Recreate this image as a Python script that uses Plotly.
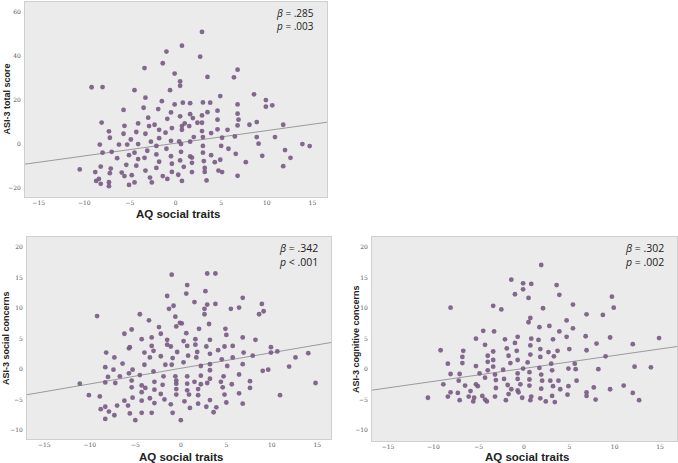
import plotly.graph_objects as go

# ---------------- data ----------------
aq_total = [2.9, 0.7, -1.0, 2.7, -1.4, -3.4, 6.8, -0.1, 3.5, 6.4, 0.5, 0.5, -9.2, -8.0, -4.5, -0.6, 8.6, 4.9, -3.3, 9.9,
            -1.5, 0.8, 1.6, 3.0, 3.8, -0.1, 6.8, 10.6, 9.9, -3.5, -1.9, -5.7, 4.6, 3.5, -0.5, 1.6, 6.8, 2.9, 0.5, 1.9,
            -3.0, -0.9, 6.9, 4.6, -8.1, -4.1, 1.0, 2.4, 2.9, 8.9, 11.8, 8.1, -5.6, -2.9, -2.3, 0.7, 1.5, 6.8, -1.8, -0.4,
            0.7, 2.9, 4.6, 5.7, -7.3, -4.3, -3.3, -1.1, -5.7, 3.9, -7.2, -4.9, -1.8, 2.0, 3.0, 5.1, 6.5, 8.9, 10.9, -0.5,
            0.4, 1.6, -2.7, -8.3, -6.2, -5.3, -4.1, -2.1, 0.6, 3.0, 5.0, 9.1, 13.9, 14.7, -8.0, -7.0, -4.5, -3.1, -1.0, 0.6,
            3.0, 5.8, 6.6, 12.0, -5.1, -6.4, -3.4, -2.1, -0.5, 1.6, 1.8, 3.9, 4.3, 9.5, 12.6, -4.1, -1.8, 0.5, 3.1, 4.9,
            1.8, 7.7, -8.2, -5.4, -4.3, -0.4, 0.9, -2.1, -7.1, -10.5, -3.3, 3.2, 4.7, 5.1, 11.8, -8.8, -7.2, -5.9, -5.6, -4.8,
            -2.8, -1.4, -0.4, 0.3, 1.8, 3.2, 6.8, -8.4, -8.7, -8.2, -7.3, -7.3, -5.1, -4.5, -2.6, -0.9, 0.7, 3.4]
asi_total = [50.9, 44.7, 42.0, 39.7, 36.7, 34.5, 33.8, 32.0, 30.5, 30.3, 28.5, 26.5, 25.8, 25.9, 24.5, 24.5, 22.6, 21.8, 21.1, 20.0,
             19.5, 18.8, 18.6, 18.9, 18.8, 18.0, 18.0, 17.6, 17.0, 16.5, 15.9, 15.5, 15.2, 14.5, 14.4, 13.6, 13.8, 13.0, 12.6, 11.8,
             12.0, 11.5, 11.1, 11.1, 9.8, 9.4, 9.4, 9.7, 9.7, 10.0, 8.8, 8.8, 8.3, 8.2, 8.8, 8.2, 8.2, 8.5, 6.5, 7.3,
             6.5, 5.9, 6.7, 6.5, 5.8, 5.5, 4.7, 5.2, 4.7, 5.0, 2.9, 2.1, 2.7, 3.2, 3.2, 2.9, 3.5, 3.2, 3.2, 1.5,
             1.2, 1.1, 1.1, -0.2, -0.2, -0.2, 0.0, -0.8, 0.0, -0.8, -0.8, 0.2, 0.0, -0.9, -3.9, -3.5, -3.9, -3.0, -2.1, -3.5,
             -3.9, -2.1, -4.4, -2.7, -5.0, -6.4, -6.2, -4.7, -5.5, -5.6, -6.1, -5.0, -8.2, -5.3, -6.2, -6.8, -8.0, -7.4, -7.7, -7.1,
             -8.5, -8.2, -10.2, -9.4, -9.8, -8.9, -10.3, -10.8, -11.1, -11.5, -12.0, -10.8, -12.0, -12.7, -10.0, -12.7, -13.2, -12.9, -14.5, -14.1,
             -15.2, -14.5, -12.6, -13.9, -12.7, -12.6, -14.4, -15.8, -16.7, -18.0, -17.3, -19.1, -18.5, -17.4, -17.4, -15.8, -16.7, -16.5]

aq_social = [-1.0, 2.9, 3.8, 0.7, 2.7, 0.6, -1.5, 6.8, 1.5, 2.9, 3.8, 8.9, -0.8, -1.3, 2.6, 5.5, 6.4, 9.1, 8.6, 2.6,
             -9.2, -4.5, -0.6, -3.5, -0.1, 0.1, 3.1, -0.5, -2.4, -5.4, 2.0, 4.9, -6.2, -2.2, 0.6, 5.0, -3.2, 6.8, -4.3, -1.5,
             0.3, 1.6, 3.2, 8.2, -3.2, -1.5, -5.6, -5.7, -1.1, 0.7, 1.6, 2.8, 4.8, 5.7, 9.9, -3.0, 4.1, -8.2, -4.0, -2.2,
             -0.4, 0.8, 1.8, 3.2, 6.9, 9.9, 10.6, 14.0, -7.3, -3.4, -0.9, 1.7, 4.5, 5.7, 7.9, 12.6, -6.4, -4.0, -1.7, 0.3,
             3.2, 5.1, 6.8, -8.3, -5.3, -7.4, -3.0, -1.0, 2.2, 3.2, 9.0, 9.6, 11.9, -8.0, -6.7, -5.7, -4.5, -1.9, -0.6, 0.7,
             2.2, 3.2, 4.7, 6.4, -11.1, -8.3, -7.2, -5.4, -2.9, -0.5, 1.5, 2.9, 4.4, 7.6, 14.8, -4.3, -2.0, -0.5, 0.7, 2.2,
             5.6, -5.4, -3.9, -2.9, -0.5, 0.7, 1.9, 4.6, 7.6, -10.1, -4.3, -2.2, -0.5, 0.9, 1.9, 4.8, 10.9, -8.9, -5.3, -3.4,
             -1.8, 0.4, 3.2, 5.0, 6.4, -6.2, -4.3, -2.9, -1.1, 1.9, 2.8, 3.9, 6.8, -7.0, -5.8, -8.3, -8.8, -7.3, -7.9, -5.6,
             -4.3, -3.2, -0.9, 1.0, 3.6, -8.3, -5.0, 0.0]
asi_social = [15.5, 15.7, 15.7, 13.8, 12.8, 12.4, 12.0, 11.7, 11.0, 10.6, 10.7, 10.7, 10.4, 9.9, 9.9, 9.9, 10.1, 9.5, 9.0, 9.0,
              8.7, 9.0, 8.6, 8.0, 7.6, 7.5, 7.4, 7.0, 6.9, 6.5, 6.6, 6.6, 5.8, 5.8, 5.9, 5.6, 5.2, 5.2, 4.9, 4.8,
              4.6, 4.9, 4.8, 4.8, 3.8, 4.0, 3.6, 3.4, 3.7, 3.8, 4.0, 3.7, 3.7, 3.8, 3.6, 3.0, 3.1, 2.7, 2.7, 2.1,
              2.8, 2.2, 2.8, 2.5, 2.7, 2.7, 2.9, 2.6, 1.9, 1.9, 1.8, 1.9, 1.6, 1.9, 2.2, 1.9, 0.9, 0.7, 0.7, 1.1,
              0.8, 0.5, 0.8, 0.3, -0.1, -0.1, -0.4, 0.7, 0.5, -0.2, -0.3, -0.1, 0.4, -1.3, -1.2, -0.7, -1.0, -1.2, -1.2, -1.2,
              -1.1, -1.6, -1.2, -0.9, -2.4, -2.2, -2.3, -1.9, -2.1, -1.9, -2.1, -2.3, -2.1, -2.0, -2.3, -2.7, -2.6, -2.4, -2.4, -2.5,
              -2.5, -3.0, -3.1, -3.4, -3.3, -3.5, -3.3, -3.0, -3.1, -4.3, -3.8, -4.1, -4.2, -4.2, -4.3, -4.2, -4.3, -4.5, -4.7, -4.8,
              -5.0, -5.3, -5.1, -5.5, -4.0, -5.2, -5.2, -5.6, -5.8, -5.7, -6.2, -6.3, -5.7, -6.0, -6.0, -6.2, -6.6, -7.6, -7.0, -7.3,
              -7.2, -7.2, -7.2, -6.4, -7.1, -8.2, -8.4, -8.4]

aq_cog = [1.9, -1.4, -0.1, 0.8, 3.6, -0.1, -1.0, 3.9, 9.7, 0.5, 5.4, -8.1, -3.4, -2.5, 2.1, 9.9, 6.9, 8.7, 0.7, 0.5,
          4.7, 1.7, 2.8, 5.4, 3.9, -4.5, -3.3, -0.7, -5.3, 0.8, 1.6, 3.2, 4.7, 6.8, 9.5, 14.9, -2.1, -1.0, -4.3, 0.7,
          5.0, 6.9, 8.0, 12.0, -9.2, -6.7, -3.4, -1.9, -0.8, 1.8, 2.7, 3.7, -4.0, 0.7, -1.7, 1.8, 3.3, -6.8, 9.0, -3.4,
          -0.7, -4.0, 0.4, 3.0, 5.6, -8.4, -1.5, -3.4, -0.1, 1.7, 4.9, 5.7, 8.2, 12.2, 14.0, -6.8, -5.3, -8.1, -7.1, -4.9,
          -2.3, -4.0, -0.7, 0.6, 1.9, 3.1, -3.2, -4.3, 0.6, -2.2, -0.7, 2.0, 2.9, 3.8, 5.8, -7.2, -3.1, -8.9, -6.5, -5.3,
          -5.1, -0.4, -1.8, 0.6, 4.9, 11.0, -3.1, -1.4, -0.7, 1.9, 3.2, 4.0, 7.7, 9.5, -7.3, -5.9, -8.1, -0.6, 6.9, 12.0,
          -8.4, -6.1, -5.5, -4.6, -4.3, -3.2, -1.7, -0.2, 0.8, 1.8, 3.1, 4.8, 6.9, 7.9, -10.6, -7.1, -5.6, -4.1, -2.0, 0.7,
          2.4, 3.4, 12.7]
asi_cog = [17.1, 14.7, 14.1, 14.0, 13.8, 13.1, 12.3, 12.2, 11.9, 11.7, 10.6, 10.1, 10.4, 9.8, 10.0, 10.1, 9.0, 8.9, 8.4, 7.7,
           8.0, 6.9, 7.1, 6.7, 6.2, 6.3, 6.2, 5.3, 5.0, 5.0, 4.8, 4.9, 5.3, 5.4, 5.2, 5.1, 4.9, 4.3, 4.0, 3.9,
           3.3, 3.1, 4.2, 4.1, 3.1, 3.0, 2.9, 3.4, 3.0, 3.3, 2.8, 3.0, 2.2, 2.4, 2.2, 2.0, 2.1, 2.0, 2.1, 1.5,
           1.5, 1.2, 1.1, 0.9, 0.9, 0.9, 1.0, 0.4, 0.1, 0.2, 0.1, 0.0, 0.0, 0.4, 0.3, 1.0, 0.5, -0.8, -0.8, -0.7,
           -0.1, -0.2, -0.7, -0.5, -0.9, -0.2, -0.9, -1.4, -1.7, -1.6, -1.6, -1.9, -1.9, -1.9, -1.9, -1.9, -1.8, -2.5, -2.7, -2.5,
           -2.8, -2.5, -2.6, -2.7, -2.8, -2.7, -3.1, -3.3, -3.5, -3.2, -2.8, -3.3, -3.0, -3.3, -3.9, -3.6, -3.8, -3.8, -3.8, -3.9,
           -4.5, -4.5, -4.7, -4.4, -5.0, -4.5, -4.1, -4.7, -4.5, -4.8, -4.4, -4.2, -4.4, -5.0, -4.7, -5.1, -5.3, -5.3, -5.1, -5.1,
           -5.3, -5.4, -5.1]

panel_titles_y = ["ASI-3 total score", "ASI-3 social concerns", "ASI-3 cognitive concerns"]
x_title = "AQ social traits"
beta_labels = [".285", ".342", ".302"]
p_labels = ["= .003", "< .001", "= .002"]
fit_intercept = [0.39, 0.12, 0.12]
fit_slope = [0.575, 0.257, 0.213]
x_ticks = [-15, -10, -5, 0, 5, 10, 15]
y_ticks_total = [-20, 0, 20, 40, 60]
y_ticks_sub = [-10, -5, 0, 5, 10, 15, 20]

# ---------------- figure ----------------
W, H = 678, 463
panels = [
    dict(x=aq_total, y=asi_total, xr=[-16.5, 16.6], yr=[-24, 64.5], yt=y_ticks_total,
         px=(25, 327), py=(2, 197), ytitle_x=6, xtitle_y=214, fs=10, ann_yc=19),
    dict(x=aq_social, y=asi_social, xr=[-16.9, 16.5], yr=[-11.5, 21.7], yt=y_ticks_sub,
         px=(27, 331), py=(237, 439), ytitle_x=6, xtitle_y=457, fs=10.5, ann_yc=255),
    dict(x=aq_cog, y=asi_cog, xr=[-16.77, 16.88], yr=[-11.8, 21.7], yt=y_ticks_sub,
         px=(372, 677), py=(237, 441), ytitle_x=356, xtitle_y=457, fs=10.5, ann_yc=255),
]

fig = go.Figure()
annotations = []
layout_axes = {}
marker_color = "#7a5c84"
tick_font = dict(family="DejaVu Serif, serif", size=6, color="#555555")

for i, p in enumerate(panels):
    n = "" if i == 0 else str(i + 1)
    xa, ya = "x" + n, "y" + n
    x0, x1 = p["xr"]
    fig.add_trace(go.Scatter(
        x=[x0, x1], y=[fit_intercept[i] + fit_slope[i] * x0, fit_intercept[i] + fit_slope[i] * x1],
        mode="lines", line=dict(color="#9a9a9a", width=1), xaxis=xa, yaxis=ya, showlegend=False,
        hoverinfo="skip"))
    fig.add_trace(go.Scatter(
        x=p["x"], y=p["y"], mode="markers",
        marker=dict(size=4.8, color=marker_color, opacity=0.92, line=dict(width=0)),
        xaxis=xa, yaxis=ya, showlegend=False))
    xdom = [p["px"][0] / W, p["px"][1] / W]
    ydom = [1 - p["py"][1] / H, 1 - p["py"][0] / H]
    layout_axes["xaxis" + n] = dict(domain=xdom, range=p["xr"], anchor=ya, tickvals=x_ticks,
                                    showgrid=False, zeroline=False, showline=True, mirror=True,
                                    linecolor="#cfcfcf", linewidth=1, ticks="", ticklen=0,
                                    tickfont=tick_font, ticklabelstandoff=0)
    layout_axes["yaxis" + n] = dict(domain=ydom, range=p["yr"], anchor=xa, tickvals=p["yt"],
                                    showgrid=False, zeroline=False, showline=True, mirror=True,
                                    linecolor="#cfcfcf", linewidth=1, ticks="", ticklen=0,
                                    tickfont=tick_font, ticklabelstandoff=2)
    # axis titles
    annotations.append(dict(text="<b>" + panel_titles_y[i] + "</b>", textangle=-90,
                            x=p["ytitle_x"] / W, y=1 - ((p["py"][0] + p["py"][1]) / 2) / H,
                            xref="paper", yref="paper", showarrow=False, xanchor="center", yanchor="middle",
                            font=dict(family="Liberation Sans, Arial, sans-serif", size=9, color="#222222")))
    annotations.append(dict(text="<b>" + x_title + "</b>",
                            x=((p["px"][0] + p["px"][1]) / 2 + 2) / W, y=1 - p["xtitle_y"] / H,
                            xref="paper", yref="paper", showarrow=False, xanchor="center", yanchor="middle",
                            font=dict(family="Liberation Sans, Arial, sans-serif", size=11.5, color="#222222")))
    # stats
    rx = (p["px"][1] - 11) / W
    annotations.append(dict(text="<i>β</i> = " + beta_labels[i] + "<br><i>p</i> " + p_labels[i],
                            x=rx, y=1 - p["ann_yc"] / H, align="left",
                            xref="paper", yref="paper", showarrow=False, xanchor="right", yanchor="middle",
                            font=dict(family="Open Sans, sans-serif", size=p["fs"], color="#222222")))

fig.update_layout(
    width=W, height=H, margin=dict(l=0, r=0, t=0, b=0),
    paper_bgcolor="white", plot_bgcolor="#ebebeb",
    annotations=annotations, **layout_axes)

# the page's default body margin would shift the figure; remove it
fig.write_html("out.html", config={"displayModeBar": False},
               post_script="document.body.style.margin='0';document.body.style.padding='0';"
                           "document.body.style.overflow='hidden';")
